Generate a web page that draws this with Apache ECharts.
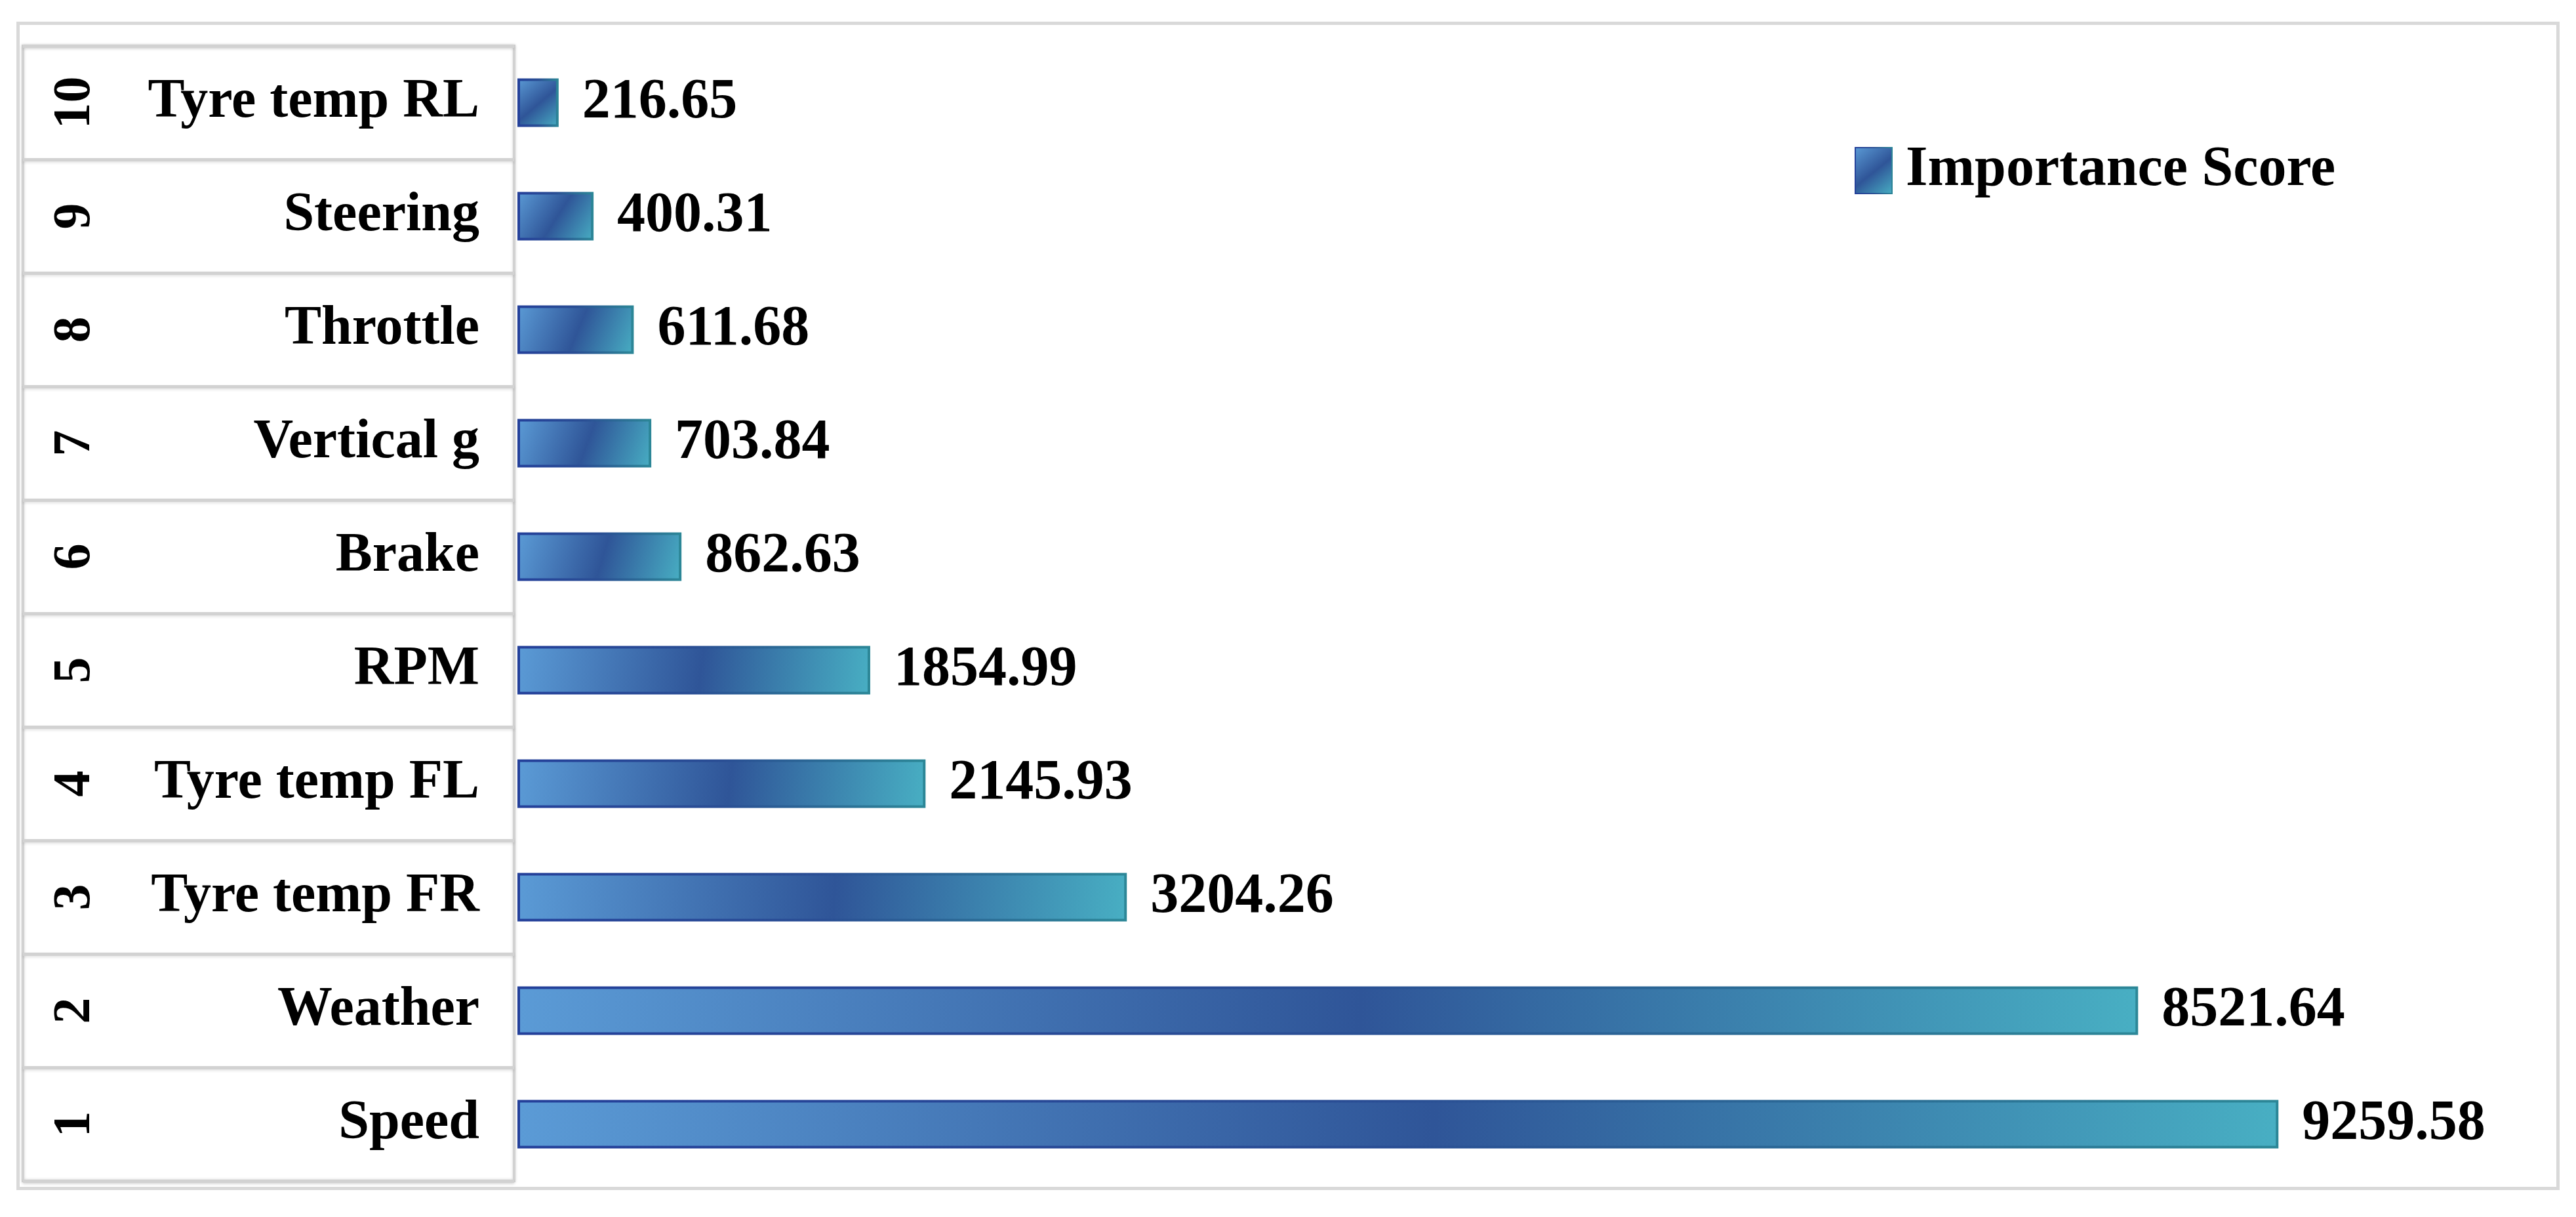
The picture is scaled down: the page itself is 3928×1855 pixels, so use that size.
<!DOCTYPE html>
<html>
<head>
<meta charset="utf-8">
<script src="https://cdn.jsdelivr.net/npm/echarts@6/dist/echarts.min.js"></script>
<style>
html,body{margin:0;padding:0;background:#fff;}
#chart{width:3928px;height:1855px;}
</style>
</head>
<body>
<div id="chart"></div>
<script>
// Data (bottom to top: rank 1 .. rank 10)
var ranks = ['1','2','3','4','5','6','7','8','9','10'];
var features = ['Speed','Weather','Tyre temp FR','Tyre temp FL','RPM','Brake','Vertical g','Throttle','Steering','Tyre temp RL'];
var scores = [9259.58, 8521.64, 3204.26, 2145.93, 1854.99, 862.63, 703.84, 611.68, 400.31, 216.65];
var seriesName = 'Importance Score';

var FONT = '"Liberation Serif", "Times New Roman", serif';
var chart = echarts.init(document.getElementById('chart'));

var barFill = new echarts.graphic.LinearGradient(0, 0, 1, 1, [
  {offset: 0, color: '#5b9bd6'},
  {offset: 0.52, color: '#2f5598'},
  {offset: 1, color: '#48afc3'}
]);
var barStroke = new echarts.graphic.LinearGradient(0, 0, 1, 0, [
  {offset: 0, color: '#24409a'},
  {offset: 0.5, color: '#2a4e94'},
  {offset: 1, color: '#2c8797'}
]);

var option = {
  backgroundColor: '#ffffff',
  animation: false,
  graphic: [{
    type: 'rect',
    left: 25, top: 33,
    shape: {width: 3873, height: 1776},
    style: {fill: 'none', stroke: '#d9d9d9', lineWidth: 5},
    silent: true, z: -10
  }],
  legend: {
    data: [seriesName],
    left: 2823, top: 212,
    itemWidth: 56, itemHeight: 70, itemGap: 20,
    icon: 'rect',
    textStyle: {fontFamily: FONT, fontWeight: 'bold', fontSize: 86, color: '#000', padding: [0,0,0,16]}
  },
  grid: [
    {left: 789, top: 70, width: 2900, height: 1730, containLabel: false},
    {left: 35, top: 70, width: 749, height: 1730, show: true,
     borderColor: '#d2d2d2', borderWidth: 4,
     shadowColor: 'rgba(0,0,0,0.15)', shadowBlur: 4, backgroundColor: '#fff'}
  ],
  xAxis: [
    {gridIndex: 0, type: 'value', min: 0, max: 10000, show: false},
    {gridIndex: 1, type: 'value', min: 0, max: 1, show: false}
  ],
  yAxis: [
    {gridIndex: 0, type: 'category', data: features,
     axisLine: {show: false}, axisTick: {show: false}, splitLine: {show: false},
     axisLabel: {margin: 58, fontFamily: FONT, fontWeight: 'bold', fontSize: 84, color: '#000',
       padding: [10, 0, 0, 0]}},
    {gridIndex: 1, type: 'category', data: ranks, offset: -120,
     axisLine: {show: false}, axisTick: {show: false},
     splitLine: {show: true, lineStyle: {color: '#d2d2d2', width: 5,
       shadowColor: 'rgba(0,0,0,0.12)', shadowBlur: 4, shadowOffsetY: 2}},
     axisLabel: {margin: 0, rotate: 90, fontFamily: FONT, fontWeight: 'bold', fontSize: 80, color: '#000'}}
  ],
  series: [{
    name: seriesName,
    type: 'bar',
    xAxisIndex: 0, yAxisIndex: 0,
    data: scores,
    barWidth: 74,
    itemStyle: {color: barFill, borderColor: barStroke, borderWidth: 4},
    label: {
      show: true, position: 'right', distance: 36,
      fontFamily: FONT, fontWeight: 'bold', fontSize: 86, color: '#000',
      padding: [10, 0, 0, 0],
      formatter: function (p) { return p.value.toFixed(2); }
    }
  }]
};
chart.setOption(option);
</script>
</body>
</html>
